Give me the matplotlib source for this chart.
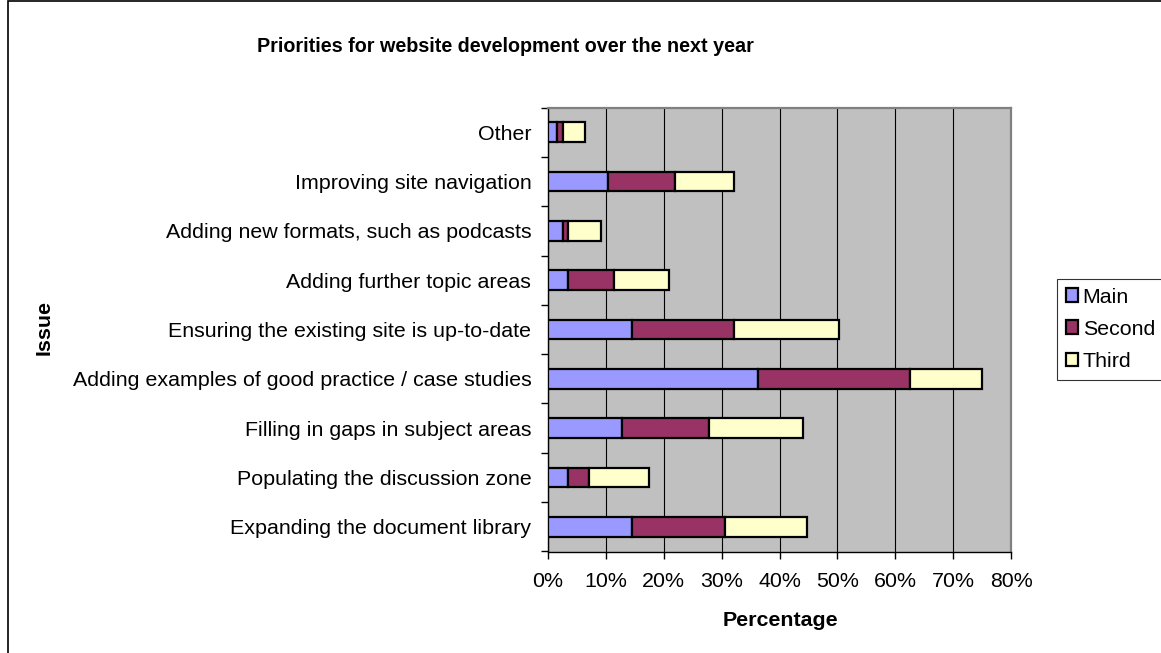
import numpy as np
import matplotlib
matplotlib.use("Agg")
import matplotlib.pyplot as plt
from matplotlib.patches import Rectangle
from matplotlib.ticker import FuncFormatter

plt.rcParams['font.family'] = ['Liberation Sans', 'DejaVu Sans']

# ---------------- data ----------------
issues = [
    "Expanding the document library",
    "Populating the discussion zone",
    "Filling in gaps in subject areas",
    "Adding examples of good practice / case studies",
    "Ensuring the existing site is up-to-date",
    "Adding further topic areas",
    "Adding new formats, such as podcasts",
    "Improving site navigation",
    "Other",
]
main = [14.6, 3.4, 12.8, 36.2, 14.6, 3.4, 2.6, 10.4, 1.6]
second = [15.9, 3.6, 15.1, 26.4, 17.6, 8.0, 0.9, 11.5, 1.0]
third = [14.2, 10.4, 16.1, 12.4, 18.1, 9.5, 5.7, 10.2, 3.8]

series_names = ["Main", "Second", "Third"]
colors = ["#9999FF", "#993366", "#FFFFCC"]

FS = 15.4

# ---------------- plot ----------------
fig = plt.figure(figsize=(11.61, 6.53), dpi=100)
ax = fig.add_axes([548/1161, 1 - 551.5/653, (1011 - 548)/1161, (551.5 - 107.5)/653])
ax.set_facecolor("#C0C0C0")

y = np.arange(len(issues))
left = np.zeros(len(issues))
for vals, name, col in zip([main, second, third], series_names, colors):
    ax.barh(y, vals, left=left, height=0.4, color=col, edgecolor="black",
            linewidth=1.6, label=name, zorder=3)
    left = left + np.array(vals)

ax.set_xlim(0, 80)
ax.set_ylim(-0.5, len(issues) - 0.5)
ax.set_xticks(np.arange(0, 81, 10))
ax.xaxis.set_major_formatter(FuncFormatter(lambda v, p: "%d%%" % v))
ax.grid(axis="x", color="black", linewidth=0.8, zorder=1)

ax.set_yticks(np.arange(-0.5, len(issues), 1.0))
ax.set_yticklabels([])
ax.set_yticks(y, minor=True)
ax.set_yticklabels(issues, minor=True)
ax.tick_params(axis="y", which="minor", length=0, pad=12, labelsize=FS)
ax.tick_params(axis="y", which="major", length=5, width=1, direction="out")
ax.tick_params(axis="x", length=5, width=1, direction="out", pad=10, labelsize=FS)

for s in ["top", "right"]:
    ax.spines[s].set_color("#808080")
    ax.spines[s].set_linewidth(1.6)
for s in ["left", "bottom"]:
    ax.spines[s].set_color("black")
    ax.spines[s].set_linewidth(1)

fig.text(780/1161, 1 - 620/653, "Percentage", fontsize=FS, fontweight="bold",
         ha="center", va="center")
fig.text(44/1161, 1 - 328/653, "Issue", rotation=90, fontsize=FS,
         fontweight="bold", ha="center", va="center")
fig.text(505/1161, 1 - 46/653, "Priorities for website development over the next year",
         fontsize=14.2, fontweight="bold", ha="center", va="center")

leg = ax.legend(loc="upper left", bbox_to_anchor=(1057/1161, 1 - 279/653),
                bbox_transform=fig.transFigure, frameon=True, fancybox=False,
                fontsize=FS, handlelength=0.6, handleheight=0.6,
                handletextpad=0.2, labelspacing=0.62, borderpad=0.4,
                borderaxespad=0)
leg.get_frame().set_edgecolor("black")
leg.get_frame().set_linewidth(0.8)

# chart area border
fig.patches.append(Rectangle((8/1161, -0.01), 1.1, 1.008, transform=fig.transFigure,
                             fill=False, edgecolor="black", linewidth=1.2))

fig.savefig("out.png", dpi=100)
